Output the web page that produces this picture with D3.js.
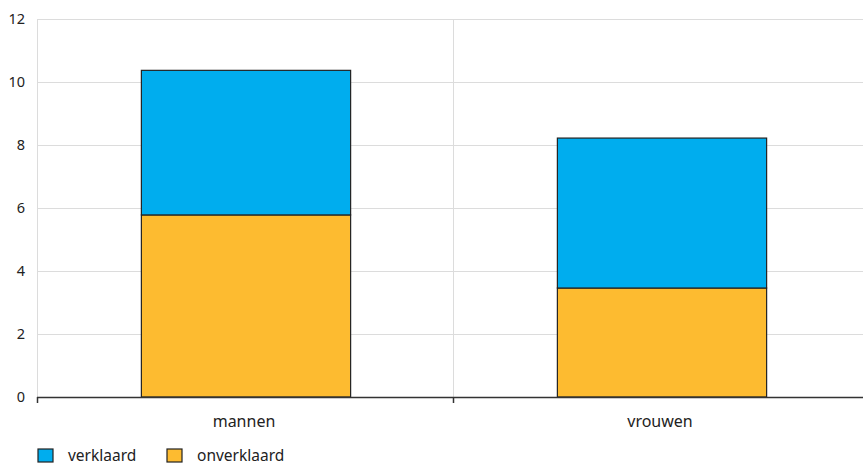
<!DOCTYPE html>
<html><head><meta charset="utf-8">
<script src="https://cdn.jsdelivr.net/npm/d3@7"></script>
<style>body{margin:0;background:#fff}svg{display:block}text{font-family:"Noto Sans",sans-serif;fill:#222}</style>
</head><body><svg id="c" width="863" height="465"></svg>
<script>
const categories = ["mannen", "vrouwen"];
const seriesNames = ["onverklaard", "verklaard"];
const onverklaard = [5.78, 3.46];
const verklaard = [4.59, 4.76];
const yTicks = [0, 2, 4, 6, 8, 10, 12];
const legendOrder = ["verklaard", "onverklaard"];
const colors = {verklaard: "#00ADEE", onverklaard: "#FDBB30"};

const svg = d3.select("#c");
const L = 37, R = 869, T = 19, B = 397;
const x = d3.scaleBand().domain(categories).range([L, R]).paddingInner(0).paddingOuter(0);
const y = d3.scaleLinear().domain([0, 12]).range([B, T]);

svg.append("g").selectAll("line").data(yTicks.filter(d => d > 0)).join("line")
  .attr("x1", L).attr("x2", 863).attr("y1", d => Math.round(y(d)) + 0.5).attr("y2", d => Math.round(y(d)) + 0.5)
  .attr("stroke", "#dcdcdc").attr("stroke-width", 1);
svg.append("g").selectAll("line").data([L, x("vrouwen")]).join("line")
  .attr("x1", d => d + 0.5).attr("x2", d => d + 0.5).attr("y1", T).attr("y2", B)
  .attr("stroke", "#dcdcdc");

svg.append("g").selectAll("text").data(yTicks).join("text")
  .attr("x", 25).attr("y", d => y(d)).attr("dy", "0.35em").attr("text-anchor", "end")
  .attr("font-size", 14.5).text(d => d);

const rows = categories.map((c, i) => ({cat: c, onverklaard: onverklaard[i], verklaard: verklaard[i]}));
const stack = d3.stack().keys(seriesNames)(rows);
const bw = x.bandwidth() * 0.503;
svg.append("g").selectAll("g").data(stack).join("g")
  .attr("fill", d => colors[d.key])
  .selectAll("rect").data(d => d).join("rect")
  .attr("x", d => x(d.data.cat) + (x.bandwidth() - bw) / 2 + 1)
  .attr("width", bw)
  .attr("y", d => y(d[1]))
  .attr("height", d => y(d[0]) - y(d[1]))
  .attr("stroke", "#222").attr("stroke-width", 1.2);

svg.append("line").attr("x1", L).attr("x2", 863).attr("y1", B + 0.5).attr("y2", B + 0.5)
  .attr("stroke", "#333").attr("stroke-width", 1.5);
svg.append("g").selectAll("line").data([L, x("vrouwen")]).join("line")
  .attr("x1", d => d + 0.5).attr("x2", d => d + 0.5).attr("y1", B).attr("y2", B + 6)
  .attr("stroke", "#333").attr("stroke-width", 1.5);

svg.append("g").selectAll("text").data(categories).join("text")
  .attr("x", d => x(d) + x.bandwidth() / 2 - 1).attr("y", 427).attr("text-anchor", "middle")
  .attr("font-size", 16).text(d => d);

const legX = [38, 167];
const lg = svg.append("g").selectAll("g").data(legendOrder).join("g")
  .attr("transform", (d, i) => `translate(${legX[i]},449)`);
lg.append("rect").attr("width", 15).attr("height", 13).attr("fill", d => colors[d])
  .attr("stroke", "#222").attr("stroke-width", 1.2);
lg.append("text").attr("x", 30).attr("y", 12).attr("font-size", 15.5).text(d => d);
</script></body></html>
